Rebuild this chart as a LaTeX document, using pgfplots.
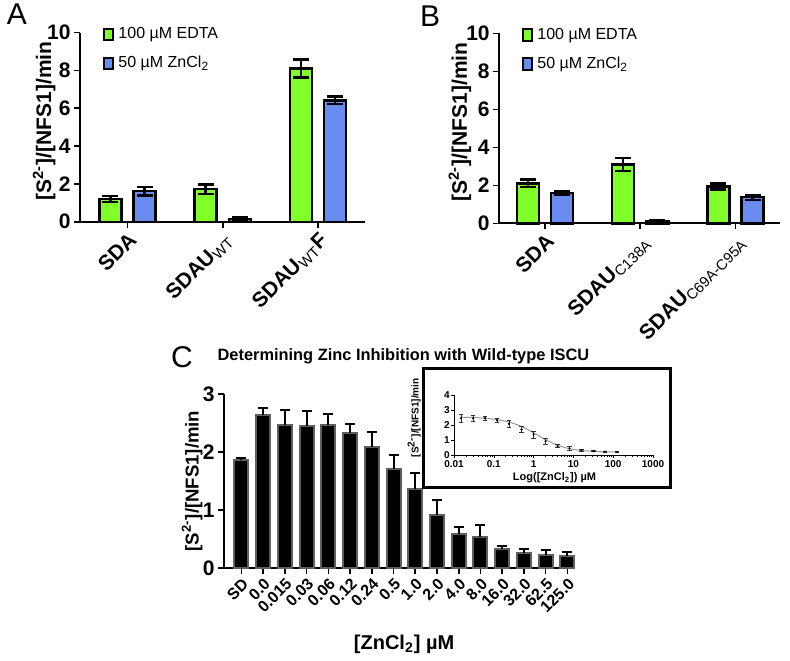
\documentclass[border=0pt]{standalone}
\usepackage{fontspec}
\setmainfont{Liberation Sans}
\usepackage{pgfplots}
\pgfplotsset{compat=1.18}
\newcommand{\fs}[1]{\fontsize{#1}{#1}\selectfont}
\definecolor{egreen}{RGB}{128,255,40}
\definecolor{zblue}{RGB}{104,140,240}
\definecolor{bgray}{RGB}{95,95,95}
\definecolor{cgray}{RGB}{150,150,150}
\pgfplotsset{
  panelAB/.style={
    scale only axis, anchor=south west, clip=false,
    axis x line*=bottom, axis y line*=left,
    axis line style={line width=0.9pt},
    tick style={line width=0.8pt, black}, major tick length=3pt, tick align=outside,
    ymin=0, ymax=10, ytick={0,2,4,6,8,10},
    xtick={0,1,2},
    /pgf/number format/assume math mode=true,
    yticklabel style={font=\bfseries\fs{10.5}, inner sep=1.5pt},
    xticklabel style={font=\bfseries\fs{10.5}, rotate=45, anchor=north east, inner sep=1pt},
    ylabel style={font=\bfseries\fs{10.5}, anchor=center},
    ylabel={[S\textsuperscript{2-}]/[NFS1]/min},
    legend image code/.code={\draw[##1, line width=1pt] (0pt,-2.8pt) rectangle (4.5pt,2.8pt);},
    legend cell align=left,
  },
  gbar/.style={ybar, bar width=11pt, bar shift=0pt, fill=egreen, draw=black, line width=1.2pt,
    error bars/.cd, y dir=both, y explicit,
    error bar style={line width=1.2pt, black},
    error mark options={rotate=90, mark size=4pt, line width=1.2pt, black}},
  bbar/.style={ybar, bar width=11pt, bar shift=0pt, fill=zblue, draw=black, line width=1.2pt,
    error bars/.cd, y dir=both, y explicit,
    error bar style={line width=1.2pt, black},
    error mark options={rotate=90, mark size=4pt, line width=1.2pt, black}},
}
\begin{document}
\begin{tikzpicture}
\useasboundingbox (0,0) rectangle (395pt,330pt);

% Panel letters
\node[font=\fs{15}] at (8.5pt,323pt) {A};
\node[font=\fs{15}] at (215pt,322pt) {B};
\node[font=\fs{15}] at (91pt,151.5pt) {C};

% ---------------- Panel A
\begin{axis}[panelAB, at={(40pt,219.15pt)}, width=142.5pt, height=94.5pt,
  xmin=-0.499, xmax=2.493,
  xticklabels={SDA, SDAU\textsubscript{\mdseries WT}, SDAU\textsubscript{\mdseries WT}F},
  ylabel style={at={(axis description cs:-0.126,0.533)}},
  legend style={at={(0.081,1.051)}, anchor=north west, draw=none, fill=none, inner sep=0pt,
    font=\fs{8}, row sep=3.25pt},
]
\addlegendimage{fill=egreen, draw=black}
\addlegendentry{100 µM EDTA}
\addlegendimage{fill=zblue, draw=black}
\addlegendentry{50 µM ZnCl\textsubscript{2}}
\addplot[gbar] coordinates {(-0.18,1.2) +- (0,0.15) (0.82,1.72) +- (0,0.25) (1.82,8.1) +- (0,0.48)};
\addplot[bbar] coordinates {(0.18,1.62) +- (0,0.23) (1.18,0.15) +- (0,0.1) (2.18,6.42) +- (0,0.2)};
\end{axis}

% ---------------- Panel B
\begin{axis}[panelAB, at={(249.5pt,218.35pt)}, width=140.5pt, height=95pt,
  xmin=-0.483, xmax=2.467,
  xticklabels={SDA, SDAU\textsubscript{\mdseries C138A}, SDAU\textsubscript{\mdseries C69A-C95A}},
  ylabel style={at={(axis description cs:-0.139,0.533)}},
  legend style={at={(0.082,1.051)}, anchor=north west, draw=none, fill=none, inner sep=0pt,
    font=\fs{8}, row sep=3.25pt},
]
\addlegendimage{fill=egreen, draw=black}
\addlegendentry{100 µM EDTA}
\addlegendimage{fill=zblue, draw=black}
\addlegendentry{50 µM ZnCl\textsubscript{2}}
\addplot[gbar] coordinates {(-0.18,2.1) +- (0,0.2) (0.82,3.1) +- (0,0.35) (1.82,1.93) +- (0,0.16)};
\addplot[bbar] coordinates {(0.18,1.58) +- (0,0.1) (1.18,0.1) +- (0,0.08) (2.18,1.37) +- (0,0.13)};
\end{axis}

% ---------------- Panel C
\begin{axis}[scale only axis, anchor=south west, clip=false,
  at={(112pt,46pt)}, width=175.5pt, height=87pt,
  axis x line*=bottom, axis y line*=left,
  axis line style={line width=0.9pt},
  tick style={line width=0.8pt, black}, major tick length=3pt, tick align=outside,
  xmin=-0.8, xmax=15.35, ymin=0, ymax=3, ytick={0,1,2,3},
  xtick={0,...,15},
  xticklabels={SD,0.0,0.015,0.03,0.06,0.12,0.24,0.5,1.0,2.0,4.0,8.0,16.0,32.0,62.5,125.0},
  /pgf/number format/assume math mode=true,
  yticklabel style={font=\bfseries\fs{10.5}, inner sep=1.5pt},
  xticklabel style={font=\bfseries\fs{8}, rotate=45, anchor=north east, inner sep=1pt},
  ylabel={[S\textsuperscript{2-}]/[NFS1]/min},
  ylabel style={font=\bfseries\fs{9.3}, anchor=center, at={(axis description cs:-0.091,0.5)}},
  xlabel={[ZnCl\textsubscript{2}] µM},
  xlabel style={font=\bfseries\fs{10}, anchor=center, at={(axis description cs:0.513,-0.44)}},
  title={Determining Zinc Inhibition with Wild-type ISCU},
  title style={font=\bfseries\fs{8.2}, anchor=center, at={(axis description cs:0.511,1.15)}},
]
\addplot[ybar, bar width=7pt, bar shift=0pt, fill=black, draw=bgray, line width=1pt,
  error bars/.cd, y dir=plus, y explicit,
  error bar style={line width=1pt, black},
  error mark options={rotate=90, mark size=2.5pt, line width=1pt, black}]
  coordinates {
  (0,1.86) +- (0,0.03)
  (1,2.63) +- (0,0.13)
  (2,2.46) +- (0,0.27)
  (3,2.45) +- (0,0.25)
  (4,2.46) +- (0,0.19)
  (5,2.32) +- (0,0.16)
  (6,2.08) +- (0,0.27)
  (7,1.70) +- (0,0.25)
  (8,1.36) +- (0,0.27)
  (9,0.92) +- (0,0.26)
  (10,0.58) +- (0,0.12)
  (11,0.54) +- (0,0.20)
  (12,0.32) +- (0,0.06)
  (13,0.26) +- (0,0.07)
  (14,0.23) +- (0,0.08)
  (15,0.20) +- (0,0.07)
  };
\end{axis}

% Inset frame
\draw[line width=1.5pt] (211.5pt,86.5pt) rectangle (335pt,146pt);

% ---------------- Inset
\begin{axis}[scale only axis, anchor=south west, clip=false,
  at={(227pt,102.5pt)}, width=99.5pt, height=30pt,
  xmode=log, xmin=0.01, xmax=1000, ymin=0, ymax=4,
  axis x line*=bottom, axis y line*=left,
  axis line style={line width=0.4pt},
  tick style={line width=0.3pt, black}, major tick length=1.5pt, minor tick length=1pt, tick align=outside,
  ytick={0,1,2,3,4},
  xtick={0.01,0.1,1,10,100,1000},
  xticklabels={0.01,0.1,1,10,100,1000},
  minor xtick={0.02,0.03,0.04,0.05,0.06,0.07,0.08,0.09,0.2,0.3,0.4,0.5,0.6,0.7,0.8,0.9,2,3,4,5,6,7,8,9,20,30,40,50,60,70,80,90,200,300,400,500,600,700,800,900},
  /pgf/number format/assume math mode=true,
  yticklabel style={font=\bfseries\fs{5}, inner sep=0.5pt},
  xticklabel style={font=\bfseries\fs{5}, inner sep=1pt},
  ylabel={[S\textsuperscript{2-}]/[NFS1]/min},
  ylabel style={font=\bfseries\fs{5}, anchor=center, at={(axis description cs:-0.2,0.62)}},
  xlabel={Log([ZnCl\textsubscript{2}]) µM},
  xlabel style={font=\bfseries\fs{5.5}, anchor=center, at={(axis description cs:0.505,-0.38)}},
]
\addplot[cgray, line width=0.5pt, smooth] coordinates {
  (0.015,2.52) (0.03,2.5) (0.06,2.45) (0.12,2.36) (0.24,2.2) (0.5,1.9) (1,1.48) (2,1.02)
  (4,0.65) (8,0.42) (16,0.3) (32,0.24) (62.5,0.21) (125,0.2)};
\addplot[only marks, mark=*, mark size=0.3pt, black,
  error bars/.cd, y dir=both, y explicit,
  error bar style={line width=0.35pt, black!80},
  error mark options={rotate=90, mark size=1.2pt, line width=0.35pt, black!80}]
  coordinates {
  (0.015,2.46) +- (0,0.25)
  (0.03,2.45) +- (0,0.22)
  (0.06,2.46) +- (0,0.15)
  (0.12,2.32) +- (0,0.13)
  (0.24,2.08) +- (0,0.22)
  (0.5,1.70) +- (0,0.2)
  (1,1.36) +- (0,0.22)
  (2,0.92) +- (0,0.22)
  (4,0.58) +- (0,0.1)
  (8,0.45) +- (0,0.15)
  (16,0.32) +- (0,0.05)
  (32,0.26) +- (0,0.04)
  (62.5,0.23) +- (0,0.04)
  (125,0.20) +- (0,0.03)
  };
\end{axis}
\end{tikzpicture}
\end{document}
